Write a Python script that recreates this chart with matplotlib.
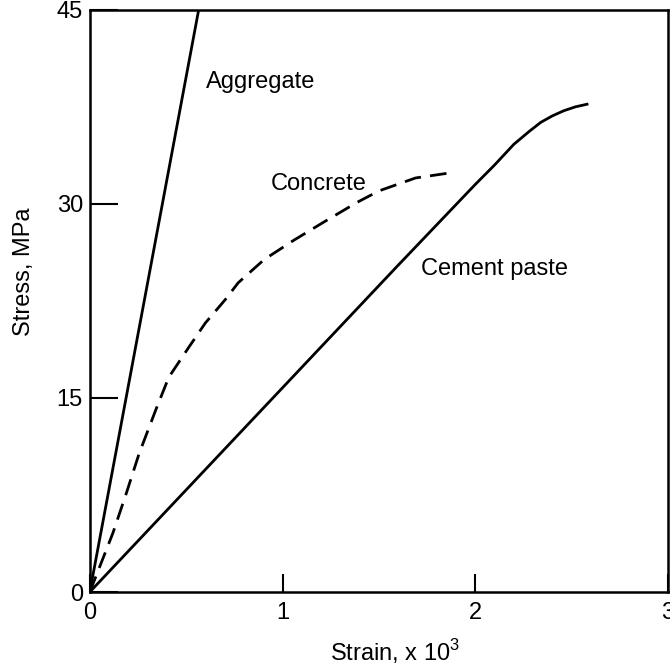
# Stress-strain curves: aggregate, concrete, cement paste

import matplotlib
matplotlib.use('Agg')
import matplotlib.pyplot as plt

agg_strain = [0.0, 0.565]
agg_stress = [0.0, 45.0]

con_strain = [0.0, 0.05, 0.12, 0.19, 0.256, 0.343, 0.41, 0.513, 0.60, 0.703, 0.77,
              0.905, 1.06, 1.215, 1.385, 1.50, 1.69, 1.872]
con_stress = [0.0, 1.9, 4.56, 7.65, 10.7, 14.1, 16.6, 18.9, 20.8, 22.6, 23.9,
              25.7, 27.2, 28.6, 30.1, 31.0, 32.0, 32.4]

cem_strain = [0.0, 1.59, 2.0, 2.1, 2.2, 2.28, 2.34, 2.40, 2.46, 2.52, 2.58]
cem_stress = [0.0, 25.1, 31.5, 33.0, 34.6, 35.6, 36.3, 36.8, 37.2, 37.5, 37.7]

xticks = [0, 1, 2, 3]
yticks = [0, 15, 30, 45]

if __name__ == '__main__':
    plt.rcParams['font.family'] = ['Liberation Sans', 'DejaVu Sans']
    plt.rcParams['font.size'] = 17
    plt.rcParams['mathtext.fontset'] = 'custom'
    plt.rcParams['mathtext.rm'] = 'Liberation Sans'

    fig = plt.figure(figsize=(6.7, 6.7), dpi=100)
    ax = fig.add_axes([0.134, 0.1164, 0.863, 0.869])

    lw = 2.0
    ax.plot(agg_strain, agg_stress, color='k', linewidth=lw, solid_capstyle='butt')
    ax.plot(con_strain, con_stress, color='k', linewidth=lw, linestyle=(0, (6, 3.3)))
    ax.plot(cem_strain, cem_stress, color='k', linewidth=lw, solid_joinstyle='round')

    ax.text(0.605, 39.4, 'Aggregate', va='center', ha='left')
    ax.text(0.938, 31.5, 'Concrete', va='center', ha='left')
    ax.text(1.718, 25.0, 'Cement paste', va='center', ha='left')

    ax.set_xlim(0, 3)
    ax.set_ylim(0, 45)
    ax.set_xticks(xticks)
    ax.set_yticks(yticks)
    ax.tick_params(axis='x', direction='in', length=13, width=1.5, pad=7)
    ax.tick_params(axis='y', direction='in', length=20, width=1.5, pad=5)
    for s in ax.spines.values():
        s.set_linewidth(1.8)

    ax.set_xlabel('Strain, x 10$^{3}$')
    ax.set_ylabel('Stress, MPa')
    ax.xaxis.set_label_coords(0.528, -0.077)
    ax.yaxis.set_label_coords(-0.095, 0.55)

    plt.savefig('out.png', dpi=100)
